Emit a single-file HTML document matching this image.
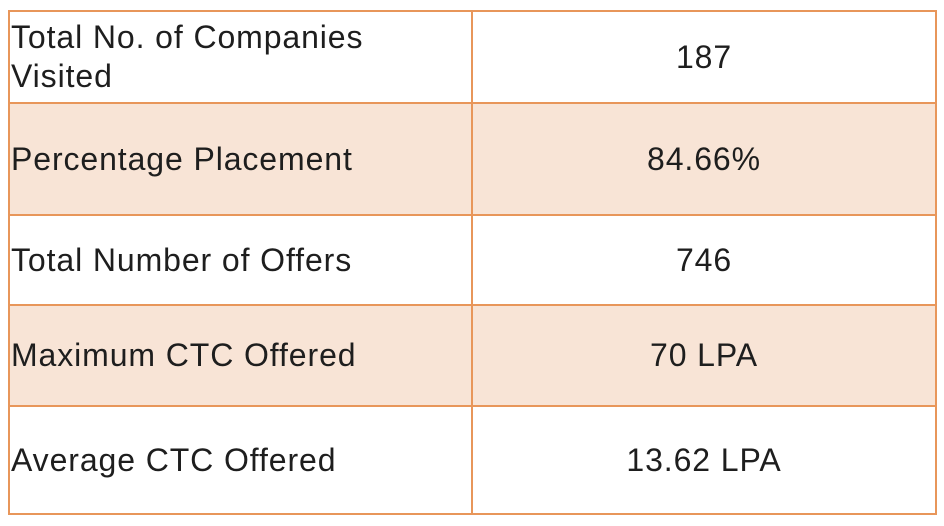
<!DOCTYPE html>
<html><head><meta charset="utf-8"><style>
html,body{margin:0;padding:0;background:#fff;width:944px;height:526px;overflow:hidden}
.cell{position:absolute;box-sizing:border-box;display:flex;align-items:center;font-family:"Liberation Sans",sans-serif;font-size:32px;letter-spacing:0.9px;color:#1e1e1e;line-height:39px}
.l{padding-left:2px}
.r{justify-content:center}
.sh{background:#f8e4d6}
.line{position:absolute;background:#e8965a}
</style></head><body>
<div>
<div class="cell l" style="left:9px;top:11px;width:463px;height:92px">Total No. of Companies<br>Visited</div>
<div class="cell r" style="left:472px;top:11px;width:464px;height:92px">187</div>
<div class="cell l sh" style="left:9px;top:103px;width:463px;height:112px">Percentage Placement</div>
<div class="cell r sh" style="left:472px;top:103px;width:464px;height:112px">84.66%</div>
<div class="cell l" style="left:9px;top:215px;width:463px;height:90px">Total Number of Offers</div>
<div class="cell r" style="left:472px;top:215px;width:464px;height:90px">746</div>
<div class="cell l sh" style="left:9px;top:305px;width:463px;height:101px">Maximum CTC Offered</div>
<div class="cell r sh" style="left:472px;top:305px;width:464px;height:101px">70 LPA</div>
<div class="cell l" style="left:9px;top:406px;width:463px;height:108px">Average CTC Offered</div>
<div class="cell r" style="left:472px;top:406px;width:464px;height:108px">13.62 LPA</div>
<div class="line" style="left:8px;top:10px;width:929px;height:2px"></div>
<div class="line" style="left:8px;top:102px;width:929px;height:2px"></div>
<div class="line" style="left:8px;top:214px;width:929px;height:2px"></div>
<div class="line" style="left:8px;top:304px;width:929px;height:2px"></div>
<div class="line" style="left:8px;top:405px;width:929px;height:2px"></div>
<div class="line" style="left:8px;top:513px;width:929px;height:2px"></div>
<div class="line" style="left:8px;top:10px;width:2px;height:505px"></div>
<div class="line" style="left:471px;top:10px;width:2px;height:505px"></div>
<div class="line" style="left:935px;top:10px;width:2px;height:505px"></div>
</div>
</body></html>
